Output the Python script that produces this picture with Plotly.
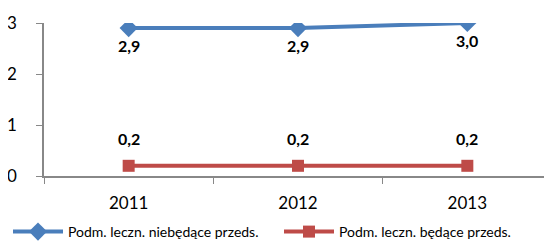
import plotly.graph_objects as go

years = ["2011", "2012", "2013"]
series_a_name = "Podm. leczn. niebędące przeds."
series_a = [2.9, 2.9, 3.0]
series_b_name = "Podm. leczn. będące przeds."
series_b = [0.2, 0.2, 0.2]
y_ticks = [0, 1, 2, 3]

blue = "#4A7EBB"
red = "#BE4B48"
font_family = "Lato, 'Open Sans', sans-serif"

# page body has an 8px margin, so the figure is drawn 8px smaller and offset
W, H = 544, 238

def fmt(v):
    return f"{v:.1f}".replace(".", ",")

fig = go.Figure()
fig.add_trace(go.Scatter(x=years, y=series_a, name=series_a_name, mode="lines+markers",
                         line=dict(color=blue, width=4), legend="legend",
                         marker=dict(symbol="diamond", size=14, color=blue)))
fig.add_trace(go.Scatter(x=years, y=series_b, name=series_b_name, mode="lines+markers",
                         line=dict(color=red, width=4), legend="legend2",
                         marker=dict(symbol="square", size=12, color=red)))

for i, v in enumerate(series_a):
    fig.add_annotation(x=i, y=v, text=f"<b>{fmt(v)}</b>", showarrow=False, yshift=-17,
                       font=dict(size=16, color="black", family=font_family))
for i, v in enumerate(series_b):
    fig.add_annotation(x=i, y=v, text=f"<b>{fmt(v)}</b>", showarrow=False, yshift=27,
                       font=dict(size=16, color="black", family=font_family))

legend_common = dict(orientation="h", xanchor="left", xref="container",
                     yref="container", y=1 - 224 / H, yanchor="middle",
                     itemwidth=50, font=dict(size=14), bgcolor="rgba(0,0,0,0)")

fig.update_layout(
    width=W, height=H,
    margin=dict(l=36, r=0, t=15, b=70, autoexpand=False),
    paper_bgcolor="white", plot_bgcolor="white",
    font=dict(family=font_family, color="black"),
    showlegend=True,
    legend=dict(x=0.0, **legend_common),
    legend2=dict(x=271 / W, **legend_common),
    xaxis=dict(type="category", range=[-0.5, 2.5], showline=True, linecolor="#888888",
               linewidth=1.5, ticks="outside", tickson="boundaries", ticklen=6,
               tickcolor="#888888", tickfont=dict(size=17), tickangle=0,
               ticklabelstandoff=11, showgrid=False, fixedrange=True),
    yaxis=dict(range=[0, 3], tickvals=y_ticks, showline=True, linecolor="#888888",
               linewidth=1.5, ticks="outside", ticklen=6, tickcolor="#888888",
               tickfont=dict(size=17), ticklabelstandoff=16, showgrid=False,
               zeroline=False, fixedrange=True),
)

fig.write_html("out.html")
